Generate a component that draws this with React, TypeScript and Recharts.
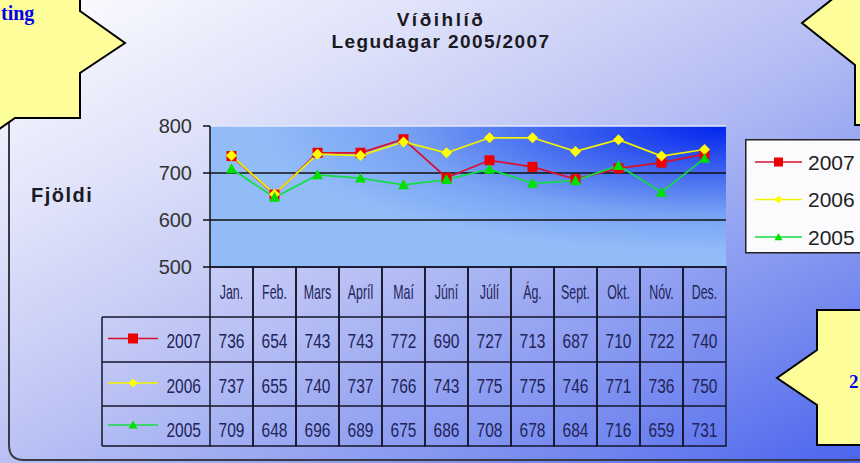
import React from 'react';
import { LineChart, Line, XAxis, YAxis, CartesianGrid, ReferenceLine, Legend } from 'recharts';

const months = ['Jan.', 'Feb.', 'Mars', 'Apríl', 'Maí', 'Júní', 'Júlí', 'Ág.', 'Sept.', 'Okt.', 'Nóv.', 'Des.'];
const y2007 = [736, 654, 743, 743, 772, 690, 727, 713, 687, 710, 722, 740];
const y2006 = [737, 655, 740, 737, 766, 743, 775, 775, 746, 771, 736, 750];
const y2005 = [709, 648, 696, 689, 675, 686, 708, 678, 684, 716, 659, 731];
const yTicks = [500, 600, 700, 800];
const gridValues = [600, 700];

const series = [
  { key: 'y2007', name: '2007', values: y2007, line: '#d8102c', fill: '#ee0000', shape: 'square' },
  { key: 'y2006', name: '2006', values: y2006, line: '#f2f200', fill: '#ffff00', shape: 'diamond' },
  { key: 'y2005', name: '2005', values: y2005, line: '#14dd44', fill: '#00e000', shape: 'triangle' },
];

const data = months.map((m, i) => ({ month: m, y2007: y2007[i], y2006: y2006[i], y2005: y2005[i] }));

// layout
const W = 860;
const H = 463;
const PLOT_LEFT = 210;
const PLOT_RIGHT = 726;
const PLOT_TOP = 126;
const PLOT_BOTTOM = 267;
const CELL = (PLOT_RIGHT - PLOT_LEFT) / months.length;
const ROW_Y = [PLOT_BOTTOM, 317, 362, 406, 446];
const ROW_BASE = [348, 393, 437];
const TABLE_LEFT = 102;
const FONT = "'Liberation Sans', Arial, sans-serif";
const TABLE_INK = '#22245a';

const Marker = ({ cx, cy, shape, fill, size }: any) => {
  if (cx == null || cy == null) return null;
  const s = size / 2;
  if (shape === 'square')
    return <rect x={cx - s} y={cy - s} width={size} height={size} fill={fill} />;
  if (shape === 'diamond')
    return <polygon points={`${cx},${cy - s} ${cx + s},${cy} ${cx},${cy + s} ${cx - s},${cy}`} fill={fill} />;
  return <polygon points={`${cx},${cy - s} ${cx + s},${cy + s * 0.8} ${cx - s},${cy + s * 0.8}`} fill={fill} />;
};

const CondText = ({ x, y, text, size = 21, sx = 0.74, anchor = 'middle' }: any) => (
  <text
    transform={`translate(${x},${y}) scale(${sx},1)`}
    textAnchor={anchor}
    fontSize={size}
    fontFamily={FONT}
    fill={TABLE_INK}
  >
    {text}
  </text>
);

const Key = ({ s, x1, x2, cy, size }: any) => (
  <g>
    <line x1={x1} x2={x2} y1={cy} y2={cy} stroke={s.line} strokeWidth={1.5} />
    <Marker cx={(x1 + x2) / 2} cy={cy} shape={s.shape} fill={s.fill} size={size} />
  </g>
);

// one table column per category, placed by the x axis
const TableTick = (props: any) => {
  const { x, payload, index } = props;
  const i = payload?.index ?? index;
  const left = x - CELL / 2;
  const ink = '#15152a';
  return (
    <g>
      {i === 0 && (
        <g>
          <line x1={TABLE_LEFT} x2={TABLE_LEFT} y1={ROW_Y[1]} y2={ROW_Y[4]} stroke={ink} strokeWidth={1.5} />
          {ROW_Y.slice(1).map((yy) => (
            <line key={yy} x1={TABLE_LEFT} x2={left} y1={yy} y2={yy} stroke={ink} strokeWidth={1.5} />
          ))}
          {series.map((s, r) => (
            <g key={s.key}>
              <Key s={s} x1={108} x2={158} cy={(ROW_Y[r + 1] + ROW_Y[r + 2]) / 2 - 1} size={s.shape === 'square' ? 10 : 9} />
              <CondText x={201} y={ROW_BASE[r]} text={s.name} anchor="end" />
            </g>
          ))}
        </g>
      )}
      <rect x={left} y={ROW_Y[0]} width={CELL} height={ROW_Y[4] - ROW_Y[0]} fill="none" stroke={ink} strokeWidth={1.5} />
      {ROW_Y.slice(1, 4).map((yy) => (
        <line key={yy} x1={left} x2={left + CELL} y1={yy} y2={yy} stroke={ink} strokeWidth={1.5} />
      ))}
      <CondText x={x} y={299} text={payload.value} size={20} sx={0.62} />
      {series.map((s, r) => (
        <CondText key={s.key} x={x} y={ROW_BASE[r]} text={String(s.values[i])} />
      ))}
    </g>
  );
};

const LegendBox = () => (
  <svg width={115} height={116} style={{ display: 'block' }}>
    <rect x={0.75} y={0.75} width={140} height={113} fill="#fbfbfd" stroke="#222" strokeWidth={1.5} />
    {series.map((s, r) => {
      const cy = 23 + r * 37.5;
      return (
        <g key={s.key}>
          <Key s={s} x1={10} x2={57} cy={cy} size={s.shape === 'square' ? 9 : 8} />
          <text x={63} y={cy + 7.5} fontSize={21} fontFamily={FONT} fill="#222">
            {s.name}
          </text>
        </g>
      );
    })}
  </svg>
);

const Backdrop = () => (
  <svg width={W} height={H} style={{ position: 'absolute', left: 0, top: 0 }}>
    <defs>
      <radialGradient id="plotBg" cx="1" cy="0" r="0.9" fx="1" fy="0">
        <stop offset="0%" stopColor="#0022ee" />
        <stop offset="35%" stopColor="#3d62f0" />
        <stop offset="70%" stopColor="#78a2f4" />
        <stop offset="100%" stopColor="#92bcf8" />
      </radialGradient>
    </defs>
    <path d="M9,110 L9,445 Q9,460 24,460 L870,460" fill="none" stroke="#3a3a44" strokeWidth={2} />
    <text x={441} y={26} textAnchor="middle" fontSize={19} fontWeight="bold" fontFamily={FONT} fill="#1a1a22" letterSpacing={2.5}>
      Víðihlíð
    </text>
    <text x={441} y={48} textAnchor="middle" fontSize={19} fontWeight="bold" fontFamily={FONT} fill="#1a1a22" letterSpacing={1.4}>
      Legudagar 2005/2007
    </text>
    <text x={31} y={202} fontSize={20} fontWeight="bold" fontFamily={FONT} fill="#1a1a22" letterSpacing={1.5}>
      Fjöldi
    </text>
    {/* callouts */}
    <polygon points="-5,-5 80,-5 80,11 125,43 80,73 80,118 15,118 -2,130 -5,130" fill="#fdfd9a" stroke="#000" strokeWidth={2} />
    <text x={1} y={20} fontSize={20} fontWeight="bold" fontFamily="'Liberation Serif', 'Times New Roman', serif" fill="#0000ee">
      ting
    </text>
    <polygon points="835,-3 802,23 855,65 855,125 870,125 870,-3" fill="#fdfd9a" stroke="#000" strokeWidth={2} />
    <polygon points="817,310 870,310 870,445 817,445 817,405 777,378 817,350" fill="#fdfd9a" stroke="#000" strokeWidth={2} />
    <text x={849} y={388} fontSize={19} fontWeight="bold" fontFamily="'Liberation Serif', 'Times New Roman', serif" fill="#0000ee">
      2
    </text>
  </svg>
);

export default function App() {
  return (
    <div
      style={{
        position: 'absolute',
        left: 0,
        top: 0,
        width: W,
        height: H,
        overflow: 'hidden',
        background: 'linear-gradient(to bottom right, #ffffff 0%, #dde0f9 27%, #b9c1f4 50%, #8294f0 76%, #4a64ee 100%)',
      }}
    >
      <Backdrop />
      <div style={{ position: 'absolute', left: 0, top: 0 }}>
        <LineChart width={W} height={H} data={data} margin={{ top: PLOT_TOP, right: W - PLOT_RIGHT, bottom: 0, left: PLOT_LEFT - 60 }}>
          <CartesianGrid horizontal={false} vertical={false} stroke="none" fill="url(#plotBg)" fillOpacity={1} />
          <XAxis
            dataKey="month"
            interval={0}
            height={H - PLOT_BOTTOM}
            tickLine={false}
            axisLine={{ stroke: '#15152a', strokeWidth: 1.5 }}
            padding={{ left: CELL / 2, right: CELL / 2 }}
            tick={(p: any) => <TableTick {...p} />}
          />
          <YAxis
            domain={[500, 800]}
            ticks={yTicks}
            interval={0}
            width={60}
            tickSize={7}
            tickMargin={11}
            tick={{ fontSize: 20, fill: '#333', fontFamily: FONT }}
            axisLine={{ stroke: '#111', strokeWidth: 1.5 }}
            tickLine={{ stroke: '#111', strokeWidth: 1.5 }}
          />
          <YAxis yAxisId="r" orientation="right" domain={[500, 800]} width={0} tick={false} tickLine={false} axisLine={{ stroke: '#e2e8ff', strokeWidth: 1.5 }} />
          <ReferenceLine y={800} stroke="#e2e8ff" strokeWidth={1.5} />
          {gridValues.map((v) => (
            <ReferenceLine key={v} y={v} stroke="#111" strokeWidth={1.5} />
          ))}
          {series.map((s) => (
            <Line
              key={s.key}
              dataKey={s.key}
              name={s.name}
              type="linear"
              stroke={s.line}
              strokeWidth={1.75}
              isAnimationActive={false}
              activeDot={false}
              dot={(p: any) => (
                <Marker key={`${s.key}-${p.index}`} cx={p.cx} cy={p.cy} shape={s.shape} fill={s.fill} size={s.shape === 'square' ? 10 : 11} />
              )}
            />
          ))}
          <Legend
            layout="vertical"
            align="center"
            verticalAlign="middle"
            wrapperStyle={{ left: 745, top: 139, width: 115, height: 116 }}
            content={() => <LegendBox />}
          />
        </LineChart>
      </div>
    </div>
  );
}
